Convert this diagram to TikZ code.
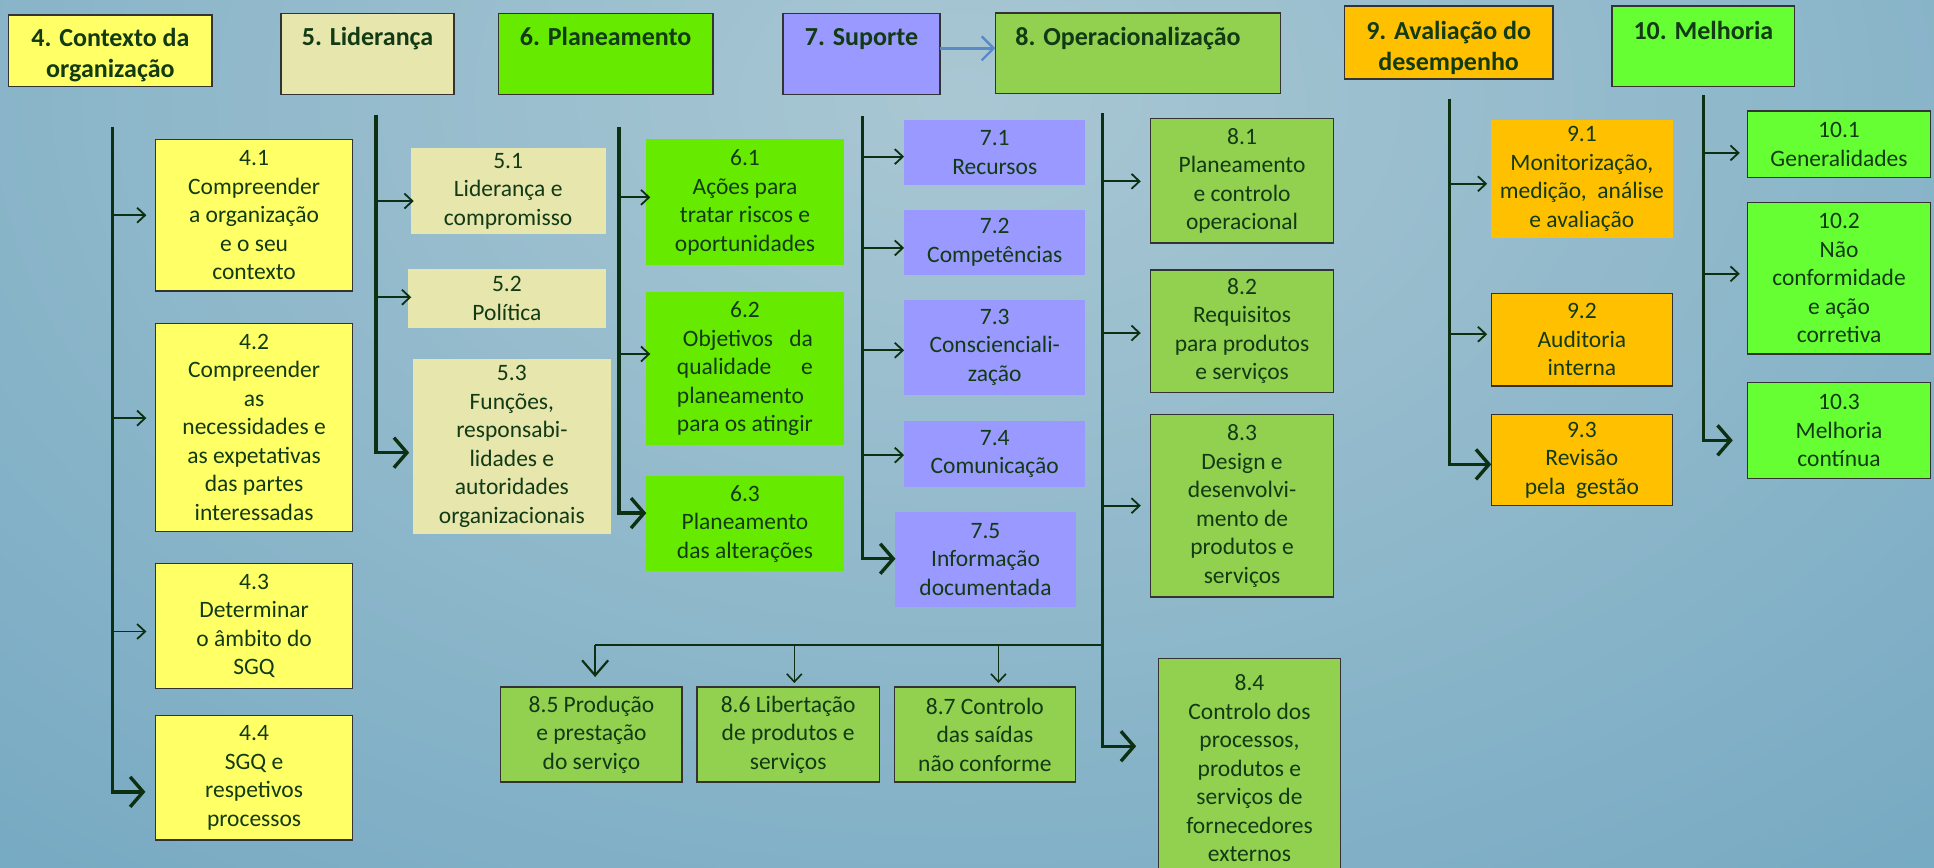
\documentclass[tikz,border=0pt]{standalone}
\usepackage{fontspec}
\setmainfont{Carlito}
\usetikzlibrary{arrows.meta,calc}

\definecolor{bgbase}{HTML}{6BA3BF}
\definecolor{bglight}{HTML}{A9C7D3}
\definecolor{ink}{HTML}{123A14}
\definecolor{trunkc}{HTML}{0E3012}
\definecolor{cyellow}{HTML}{FFFF66}
\definecolor{ckhaki}{HTML}{E6E6AD}
\definecolor{cgreen}{HTML}{66EB00}
\definecolor{cviolet}{HTML}{9999FF}
\definecolor{colive}{HTML}{92D050}
\definecolor{corange}{HTML}{FFC000}
\definecolor{clime}{HTML}{66FF33}
\definecolor{linkblue}{HTML}{5A8AC6}

% box from its two corners: name, style, x1, y1, x2, y2, text
\newcommand{\pnl}[7]{%
  \pgfmathsetmacro\pnlw{(#5-#3)*1.2334}%
  \pgfmathsetmacro\pnlh{(#6-#4)*1.2334}%
  \node[#2, minimum width=\pnlw pt, minimum height=\pnlh pt] (#1) at ({(#3+#5)/2},{(#4+#6)/2}) {#7};%
}

\begin{document}
\begin{tikzpicture}[x=1.2334pt,y=-1.2334pt,
  body/.style={inner sep=0pt, outer sep=0pt, align=center, text=ink,
    font=\fontsize{23.5}{28.5}\selectfont},
  framed/.style={body, draw=black!80, line width=1.3pt},
  head/.style={framed, line width=1.6pt},
  headtext/.style={inner sep=0pt, align=center, text=ink, anchor=north,
    font=\bfseries\fontsize{26}{31.4}\selectfont},
  trunk/.style={draw=trunkc, line width=3.4pt, -{Straight Barb[length=13pt,width=30pt]}},
  feed/.style={draw=trunkc, line width=1.8pt, -{Straight Barb[length=8pt,width=15pt]}},
  branch/.style={draw=trunkc, line width=2.2pt},
  dropbig/.style={draw=trunkc, line width=2.2pt, -{Straight Barb[length=15pt,width=26pt]}},
  link/.style={draw=linkblue, line width=2.4pt, -{Straight Barb[length=12pt,width=24pt]}},
]
\useasboundingbox (0,0) rectangle (1568,703);
\clip (0,0) rectangle (1568,703);

% background
\fill[bgbase] (0,0) rectangle (1568,703);
\shade[inner color=bglight, outer color=bgbase] (780,80) ellipse [x radius=1500, y radius=1000];

% section headers
\pnl{h4}{head, fill=cyellow}{7}{12}{172}{70}{}
\pnl{h5}{head, fill=ckhaki}{228}{11}{368}{76.5}{}
\pnl{h6}{head, fill=cgreen}{404}{11}{578}{76.5}{}
\pnl{h7}{head, fill=cviolet}{635}{11}{762}{76.5}{}
\pnl{h8}{head, fill=colive}{807}{10.3}{1038}{75.7}{}
\pnl{h9}{head, fill=corange}{1090}{5}{1259}{64}{}
\pnl{h10}{head, fill=clime}{1307}{5}{1455}{70}{}

\node[headtext] (h4t) at (89.5,22.7) {4. Contexto da\\organização};
\node[headtext] (h5t) at (298,22.1) {5. Liderança};
\node[headtext] (h6t) at (491,22.1) {6. Planeamento};
\node[headtext] (h7t) at (698.5,23.2) {7. Suporte};
\node[headtext, anchor=north west] (h8t) at (823,22.1) {8. Operacionalização};
\node[headtext] (h9t) at (1174.5,16.7) {9. Avaliação do\\desempenho};
\node[headtext] (h10t) at (1381,16.7) {10. Melhoria};

\coordinate (l7) at (h7.east |- 0,39.2);
\draw[link] (l7) -- (l7 -| h8.west);

% 4 - context
\pnl{b41}{framed, fill=cyellow}{126}{113}{286}{236}{4.1\\Compreender\\a organização\\e o seu\\contexto}
\pnl{b42}{framed, fill=cyellow}{126}{262}{286}{431}{4.2\\Compreender\\as\\necessidades e\\as expetativas\\das partes\\interessadas}
\pnl{b43}{framed, fill=cyellow}{126}{457}{286}{558}{4.3\\Determinar\\o âmbito do\\SGQ}
\pnl{b44}{framed, fill=cyellow}{126}{580}{286}{681}{4.4\\SGQ e\\respetivos\\processos}

% 5 - leadership
\pnl{b51}{body, fill=ckhaki}{333}{120}{491}{190}{5.1\\Liderança e\\compromisso}
\pnl{b52}{body, fill=ckhaki}{331}{218}{491}{266}{5.2\\Política}
\pnl{b53}{body, fill=ckhaki}{335}{291}{495}{433}{5.3\\Funções,\\responsabi-\\lidades e\\autoridades\\organizacionais}

% 6 - planning
\pnl{b61}{body, fill=cgreen}{524}{113}{684}{215}{6.1\\Ações para\\tratar riscos e\\oportunidades}
\pnl{b62}{body, fill=cgreen}{524}{237}{684}{361}{6.2\\\hbox to 136pt{\hspace{6pt}Objetivos\hfill da}\\\hbox to 136pt{qualidade\hfill e}\\\hbox to 136pt{planeamento\hfill}\\\hbox to 136pt{para os atingir\hfill}}
\pnl{b63}{body, fill=cgreen}{524}{386}{684}{463}{6.3\\Planeamento\\das alterações}

% 7 - support
\pnl{b71}{body, fill=cviolet}{733}{97}{880}{150}{7.1\\Recursos}
\pnl{b72}{body, fill=cviolet}{733}{170}{880}{223}{7.2\\Competências}
\pnl{b73}{body, fill=cviolet}{733}{243}{880}{320}{7.3\\Conscienciali-\\zação}
\pnl{b74}{body, fill=cviolet}{733}{341}{880}{395}{7.4\\Comunicação}
\pnl{b75}{body, fill=cviolet}{726}{415}{872}{492}{7.5\\Informação\\documentada}

% 8 - operation
\pnl{b81}{framed, fill=colive}{933}{96}{1081}{197}{8.1\\Planeamento\\e controlo\\operacional}
\pnl{b82}{framed, fill=colive}{933}{219}{1081}{318}{8.2\\Requisitos\\para produtos\\e serviços}
\pnl{b83}{framed, fill=colive}{933}{336}{1081}{484}{8.3\\Design e\\desenvolvi-\\mento de\\produtos e\\serviços}
\pnl{b84}{framed, fill=colive}{939}{534}{1087}{712}{8.4\\Controlo dos\\processos,\\produtos e\\serviços de\\fornecedores\\externos}
\pnl{b85}{framed, fill=colive}{406}{557}{553}{634}{8.5 Produção\\e prestação\\do serviço}
\pnl{b86}{framed, fill=colive}{565}{557}{713}{634}{8.6 Libertação\\de produtos e\\serviços}
\pnl{b87}{framed, fill=colive}{725}{557}{872}{634}{8.7 Controlo\\das saídas\\não conforme}

% 9 - performance evaluation
\pnl{b91}{body, fill=corange}{1209}{97}{1356}{193}{9.1\\Monitorização,\\medição,\ \ análise\\e avaliação}
\pnl{b92}{framed, fill=corange}{1209}{238}{1356}{313}{9.2\\Auditoria\\interna}
\pnl{b93}{framed, fill=corange}{1209}{336}{1356}{410}{9.3\\Revisão\\pela\ \ gestão}

% 10 - improvement
\pnl{b101}{framed, fill=clime}{1417}{90}{1565}{144}{10.1\\Generalidades}
\pnl{b102}{framed, fill=clime}{1417}{164}{1565}{287}{10.2\\Não\\conformidade\\e ação\\corretiva}
\pnl{b103}{framed, fill=clime}{1417}{310}{1565}{388}{10.3\\Melhoria\\contínua}

% trunk tops
\coordinate (t4) at (91,103);
\coordinate (t5) at (305,93);
\coordinate (t6) at (502,103);
\coordinate (t7) at (699.5,94);
\coordinate (t8) at (894,92);
\coordinate (t9) at (1175,80);
\coordinate (t10) at (1381,77);

% arrow entry points on the boxes
\coordinate (a41) at (b41.west |- 0,174.5);
\coordinate (a42) at (b42.west |- 0,339);
\coordinate (a43) at (b43.west |- 0,512);
\coordinate (a44) at (b44.west |- 0,642);
\coordinate (a51) at (b51.west |- 0,163);
\coordinate (a52) at (b52.west |- 0,241);
\coordinate (a53) at (b53.west |- 0,367);
\coordinate (a61) at (b61.west |- 0,160);
\coordinate (a62) at (b62.west |- 0,287);
\coordinate (a63) at (b63.west |- 0,416);
\coordinate (a71) at (b71.west |- 0,127);
\coordinate (a72) at (b72.west |- 0,201);
\coordinate (a73) at (b73.west |- 0,284);
\coordinate (a74) at (b74.west |- 0,369);
\coordinate (a75) at (b75.west |- 0,453);
\coordinate (a81) at (b81.west |- 0,147);
\coordinate (a82) at (b82.west |- 0,270);
\coordinate (a83) at (b83.west |- 0,410);
\coordinate (a84) at (b84.west |- 0,605);
\coordinate (a91) at (b91.west |- 0,149);
\coordinate (a92) at (b92.west |- 0,271);
\coordinate (a93) at (b93.west |- 0,376.5);
\coordinate (a101) at (b101.west |- 0,124);
\coordinate (a102) at (b102.west |- 0,222);
\coordinate (a103) at (b103.west |- 0,357);

% column 4
\draw[trunk, shorten >=10pt] (t4) |- (a44);
\foreach \k in {41,42,43} \draw[feed, shorten >=9pt] (a\k -| t4) -- (a\k);
% column 5
\draw[trunk, shorten >=4pt] (t5) |- (a53);
\foreach \k in {51,52} \draw[feed, shorten >=-3pt] (a\k -| t5) -- (a\k);
% column 6
\draw[trunk] (t6) |- (a63);
\foreach \k in {61,62} \draw[feed, shorten >=-4pt] (a\k -| t6) -- (a\k);
% column 7
\draw[trunk] (t7) |- (a75);
\foreach \k in {71,72,73,74} \draw[feed] (a\k -| t7) -- (a\k);
% column 8
\draw[trunk, shorten >=22pt] (t8) |- (a84);
\foreach \k in {81,82,83} \draw[feed, shorten >=10pt] (a\k -| t8) -- (a\k);
\coordinate (j8) at (t8 |- 0,523);
\coordinate (d85) at ($(b85.north)+(3,0)$);
\coordinate (d86) at ($(b86.north)+(5,0)$);
\coordinate (d87) at ($(b87.north)+(11,0)$);
\draw[branch] (j8) -- (j8 -| d85);
\draw[dropbig, shorten >=10pt] (j8 -| d85) -- (d85);
\draw[feed, line width=1.6pt, shorten >=4pt] (j8 -| d86) -- (d86);
\draw[feed, line width=1.6pt, shorten >=4pt] (j8 -| d87) -- (d87);
% column 9
\draw[trunk] (t9) |- (a93);
\foreach \k in {91,92} \draw[feed, shorten >=4pt] (a\k -| t9) -- (a\k);
% column 10
\draw[trunk, shorten >=15pt] (t10) |- (a103);
\foreach \k in {101,102} \draw[feed, shorten >=8pt] (a\k -| t10) -- (a\k);
\end{tikzpicture}
\end{document}
